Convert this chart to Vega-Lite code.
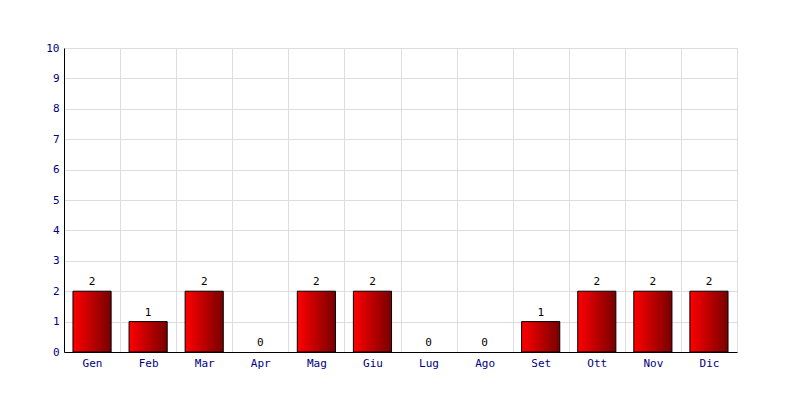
{
  "$schema": "https://vega.github.io/schema/vega-lite/v6.json",
  "width": 673,
  "height": 304,
  "autosize": "none",
  "padding": {"left": 64, "top": 48, "right": 63, "bottom": 48},
  "background": "white",
  "config": {
    "view": {"stroke": null},
    "font": "DejaVu Sans Mono"
  },
  "data": {
    "values": [
      {"mese": "Gen", "valore": 2},
      {"mese": "Feb", "valore": 1},
      {"mese": "Mar", "valore": 2},
      {"mese": "Apr", "valore": 0},
      {"mese": "Mag", "valore": 2},
      {"mese": "Giu", "valore": 2},
      {"mese": "Lug", "valore": 0},
      {"mese": "Ago", "valore": 0},
      {"mese": "Set", "valore": 1},
      {"mese": "Ott", "valore": 2},
      {"mese": "Nov", "valore": 2},
      {"mese": "Dic", "valore": 2}
    ]
  },
  "encoding": {
    "x": {
      "field": "mese",
      "type": "nominal",
      "sort": ["Gen", "Feb", "Mar", "Apr", "Mag", "Giu", "Lug", "Ago", "Set", "Ott", "Nov", "Dic"],
      "scale": {"paddingInner": 0, "paddingOuter": 0},
      "axis": {
        "title": null,
        "labelAngle": 0,
        "grid": true,
        "tickBand": "extent",
        "gridColor": "#dddddd",
        "ticks": false,
        "domainColor": "black",
        "labelColor": "#000080",
        "labelFont": "DejaVu Sans Mono",
        "labelFontSize": 11,
        "labelPadding": 5
      }
    },
    "y": {
      "field": "valore",
      "type": "quantitative",
      "scale": {"domain": [0, 10], "nice": false},
      "axis": {
        "title": null,
        "tickCount": 10,
        "grid": true,
        "gridColor": "#dddddd",
        "ticks": false,
        "domainColor": "black",
        "labelColor": "#000080",
        "labelFont": "DejaVu Sans Mono",
        "labelFontSize": 11,
        "labelPadding": 5
      }
    }
  },
  "layer": [
    {
      "transform": [{"filter": "datum.valore > 0"}],
      "mark": {
        "type": "bar",
        "width": {"band": 0.68},
        "stroke": "black",
        "strokeWidth": 1,
        "color": {
          "gradient": "linear",
          "x1": 0, "y1": 0, "x2": 1, "y2": 0,
          "stops": [
            {"offset": 0, "color": "#ff0000"},
            {"offset": 1, "color": "#780000"}
          ]
        }
      }
    },
    {
      "mark": {
        "type": "text",
        "baseline": "bottom",
        "dy": -4,
        "font": "DejaVu Sans Mono",
        "fontSize": 11,
        "color": "black"
      },
      "encoding": {"text": {"field": "valore", "type": "quantitative"}}
    }
  ]
}
